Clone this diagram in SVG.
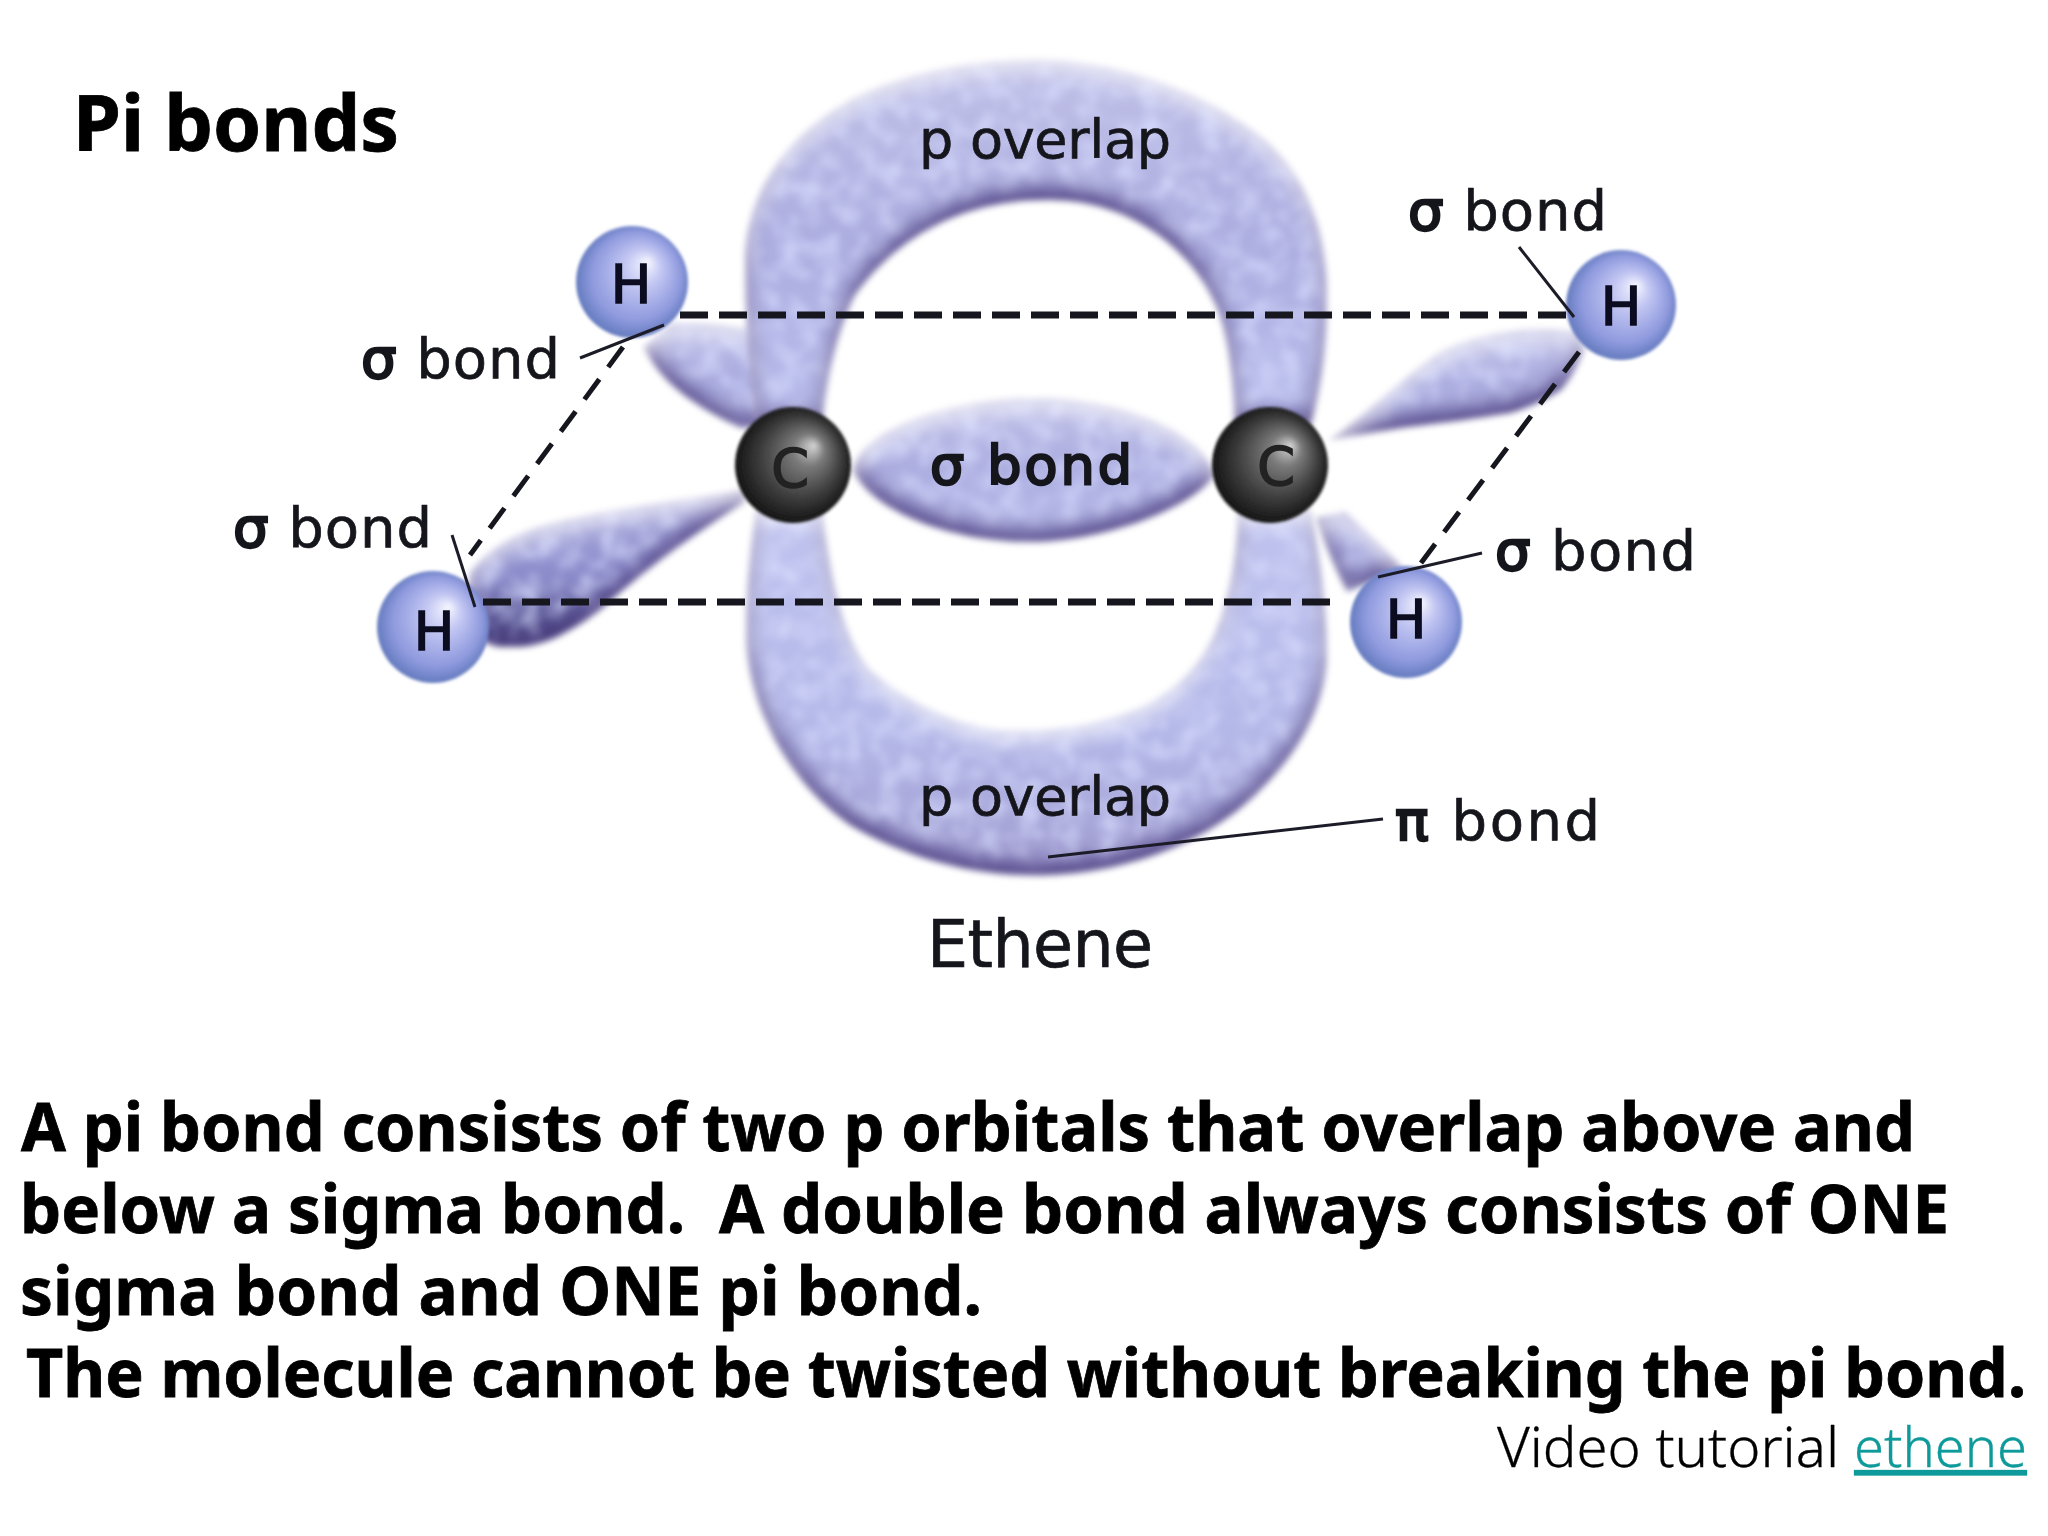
<svg xmlns="http://www.w3.org/2000/svg" width="2048" height="1536" viewBox="0 0 2048 1536">
<style>
.main{font-family:"Noto Sans","Open Sans","Liberation Sans",sans-serif;font-weight:700;font-size:66px;fill:#000;stroke:#000;stroke-width:0.8;white-space:pre}
.lab{font-family:"DejaVu Sans","Noto Sans",sans-serif;font-size:56px;fill:#15151c;stroke:#15151c;stroke-width:0.7}
.heavy{stroke-width:2.4}
.atom{font-family:"DejaVu Sans",sans-serif;font-size:54px;fill:#0c0c20;text-anchor:middle;stroke:#0c0c20;stroke-width:1.6}
.video{font-family:"Noto Sans","Open Sans",sans-serif;font-weight:300;font-size:55px;fill:#000;stroke:#000;stroke-width:0.3}
.d1{fill:none;stroke:#16161e;stroke-width:7;stroke-dasharray:28 11}
.d2{fill:none;stroke:#16161e;stroke-width:5;stroke-dasharray:25 15}
.lead{fill:none;stroke:#1c1c28;stroke-width:3}
.lobe{fill:url(#lobeFill);filter:url(#orb)}
.lobe2{fill:url(#lobeFill2);filter:url(#orb)}
.hs{fill:url(#hGrad);filter:url(#soft)}
.cs{fill:url(#cGrad);filter:url(#soft)}
</style>
<defs>
<linearGradient id="lobeFill" x1="0" y1="0" x2="0" y2="1">
<stop offset="0" stop-color="#bfbfe6"/><stop offset="0.5" stop-color="#acade0"/><stop offset="1" stop-color="#b9bdeb"/>
</linearGradient>
<linearGradient id="lobeFill2" x1="0" y1="0" x2="0" y2="1">
<stop offset="0" stop-color="#c0c3ee"/><stop offset="0.6" stop-color="#b4b8e8"/><stop offset="1" stop-color="#a09cd0"/>
</linearGradient>
<linearGradient id="lobeDark" x1="0" y1="0" x2="0" y2="1">
<stop offset="0" stop-color="#b4b4e2"/><stop offset="0.55" stop-color="#8a8aca"/><stop offset="1" stop-color="#3c3672"/>
</linearGradient>
<radialGradient id="hGrad" cx="0.5" cy="0.5" r="0.55" fx="0.64" fy="0.32">
<stop offset="0" stop-color="#f6f7ff"/><stop offset="0.3" stop-color="#c2c6f2"/><stop offset="0.72" stop-color="#8f9ade"/><stop offset="1" stop-color="#5670b4"/>
</radialGradient>
<radialGradient id="cGrad" cx="0.5" cy="0.5" r="0.55" fx="0.68" fy="0.33">
<stop offset="0" stop-color="#d4d4d4"/><stop offset="0.25" stop-color="#7a7a7a"/><stop offset="0.65" stop-color="#3a3a3a"/><stop offset="1" stop-color="#0b0b0b"/>
</radialGradient>
<filter id="soft" x="-10%" y="-10%" width="120%" height="120%"><feGaussianBlur stdDeviation="1.6"/></filter>
<filter id="orb" x="-15%" y="-15%" width="130%" height="130%" color-interpolation-filters="sRGB">
<feComponentTransfer in="SourceAlpha" result="inv"><feFuncA type="table" tableValues="1 0"/></feComponentTransfer>
<feGaussianBlur in="inv" stdDeviation="10" result="ib"/>
<feOffset in="ib" dy="-11" result="io"/>
<feFlood flood-color="#43357a" result="fc"/>
<feComposite in="fc" in2="io" operator="in" result="sh"/>
<feComposite in="sh" in2="SourceAlpha" operator="in" result="inner"/>
<feOffset in="ib" dy="11" result="wo"/>
<feFlood flood-color="#ffffff" flood-opacity="0.75" result="wc"/>
<feComposite in="wc" in2="wo" operator="in" result="wh"/>
<feComposite in="wh" in2="SourceAlpha" operator="in" result="white"/>
<feTurbulence type="fractalNoise" baseFrequency="0.05" numOctaves="2" seed="4" result="n"/>
<feColorMatrix in="n" type="matrix" values="0 0 0 0 0.85  0 0 0 0 0.87  0 0 0 0 1  0 0 0 1.6 -0.6" result="nc"/>
<feComposite in="nc" in2="SourceAlpha" operator="in" result="mott"/>
<feMerge result="m"><feMergeNode in="SourceGraphic"/><feMergeNode in="mott"/><feMergeNode in="inner"/><feMergeNode in="white"/></feMerge>
<feGaussianBlur in="m" stdDeviation="3"/>
</filter>
</defs>
<rect width="2048" height="1536" fill="#fff"/>
<g id="lobes">
<path id="lobe-ul" class="lobe" d="M644 347 C655 372 680 400 741 428 L790 425 L790 335 C750 328 710 322 672 323 Z"/>
<path id="lobe-lr" class="lobe" d="M1316 518 C1325 545 1335 568 1347 592 L1402 568 C1385 548 1365 530 1345 512 Z"/>
<path id="p-top" class="lobe" d="M756 425 C750 380 745 320 745 263 C745 190 790 130 860 95 C920 68 990 58 1051 60 C1130 64 1210 95 1265 140 C1310 180 1327 235 1327 297 C1327 345 1322 385 1311 425 L1235 425 C1233 385 1230 345 1219 313 C1195 250 1130 200 1051 200 C960 198 895 240 855 295 C835 335 826 385 822 425 Z"/>
<path id="p-bottom" class="lobe2" d="M756 510 C750 550 746 590 746 633 C746 700 785 780 850 825 C910 860 980 878 1050 875 C1130 872 1215 840 1265 785 C1310 740 1328 690 1327 650 C1326 600 1320 555 1311 510 L1238 510 C1237 550 1232 580 1224 607 C1212 650 1190 680 1150 703 C1105 725 1050 733 1000 730 C950 724 905 700 870 670 C845 640 832 590 822 510 Z"/>
<path id="sigma-cc" class="lobe" d="M853 470 C860 430 950 398 1035 398 C1120 398 1200 430 1215 475 C1190 510 1100 542 1030 542 C950 542 870 510 853 470 Z"/>
<path id="lobe-ll" style="fill:url(#lobeDark);filter:url(#orb)" d="M745 490 C680 500 600 510 545 525 C510 535 485 552 470 573 L465 625 C480 640 490 648 506 647 C530 648 545 642 557 637 C580 625 595 615 608 603 C650 565 700 530 745 502 Z"/>
<path id="lobe-ur" class="lobe" d="M1330 440 C1365 415 1400 380 1440 352 C1480 332 1530 325 1578 332 L1584 350 C1578 365 1570 380 1561 390 C1545 400 1530 407 1510 413 C1480 418 1440 423 1408 427 C1380 431 1355 436 1330 440 Z"/>
</g>
<g id="atom-H1"><circle class="hs" cx="632" cy="282" r="56"/><text class="atom" x="631" y="303">H</text></g>
<g id="atom-H2"><circle class="hs" cx="1621" cy="305" r="55"/><text class="atom" x="1621" y="325">H</text></g>
<g id="atom-H3"><circle class="hs" cx="433" cy="627" r="56"/><text class="atom" x="434" y="650">H</text></g>
<g id="atom-H4"><circle class="hs" cx="1406" cy="622" r="56"/><text class="atom" x="1406" y="638">H</text></g>
<g id="atom-C1"><circle class="cs" cx="793" cy="465" r="58"/><text class="atom" style="fill:#222;stroke:#222" x="790" y="487">C</text></g>
<g id="atom-C2"><circle class="cs" cx="1270" cy="465" r="58"/><text class="atom" style="fill:#222;stroke:#222" x="1276" y="485">C</text></g>
<g id="connectors">
<line class="d1" x1="680" y1="315" x2="1571" y2="315"/>
<line class="d1" x1="483" y1="602" x2="1337" y2="602"/>
<line class="d2" x1="623" y1="347" x2="470" y2="555"/>
<line class="d2" x1="1579" y1="352" x2="1421" y2="563"/>
<line class="lead" x1="580" y1="358" x2="664" y2="325"/>
<line class="lead" x1="452" y1="535" x2="475" y2="607"/>
<line class="lead" x1="1519" y1="247" x2="1574" y2="317"/>
<line class="lead" x1="1482" y1="553" x2="1378" y2="577"/>
<line class="lead" x1="1383" y1="819" x2="1048" y2="857"/>
</g>
<g id="labels">
<text class="lab" x="361" y="378" textLength="199"><tspan class="heavy">σ</tspan> bond</text>
<text class="lab" x="233" y="547" textLength="199"><tspan class="heavy">σ</tspan> bond</text>
<text class="lab" x="1408" y="230" textLength="199"><tspan class="heavy">σ</tspan> bond</text>
<text class="lab" x="1495" y="570" textLength="201"><tspan class="heavy">σ</tspan> bond</text>
<text class="lab" x="1395" y="840" textLength="205"><tspan class="heavy">π</tspan> bond</text>
<text class="lab heavy" x="930" y="484" textLength="202" style="font-size:54px">σ bond</text>
<text class="lab" x="919" y="158" textLength="252" style="font-size:54px">p overlap</text>
<text class="lab" x="919" y="815" textLength="252" style="font-size:54px">p overlap</text>
<text class="lab" x="927" y="967" textLength="226" style="font-size:65px">Ethene</text>
</g>
<g id="text">
<text class="main" x="73" y="151" textLength="326" lengthAdjust="spacingAndGlyphs" style="font-size:77px">Pi bonds</text>
<text class="main" x="21" y="1151" textLength="1894" lengthAdjust="spacingAndGlyphs">A pi bond consists of two p orbitals that overlap above and</text>
<text class="main" x="20" y="1233" textLength="1929" lengthAdjust="spacingAndGlyphs">below a sigma bond.  A double bond always consists of ONE</text>
<text class="main" x="20" y="1315" textLength="962" lengthAdjust="spacingAndGlyphs">sigma bond and ONE pi bond.</text>
<text class="main" x="26" y="1397" textLength="2000" lengthAdjust="spacingAndGlyphs">The molecule cannot be twisted without breaking the pi bond.</text>
<text class="video" x="1497" y="1467" textLength="342" lengthAdjust="spacingAndGlyphs">Video tutorial</text>
<text class="video" x="1854" y="1467" textLength="173" lengthAdjust="spacingAndGlyphs" style="fill:#0e9a9a;stroke:#0e9a9a;text-decoration:underline">ethene</text>
</g>
</svg>
